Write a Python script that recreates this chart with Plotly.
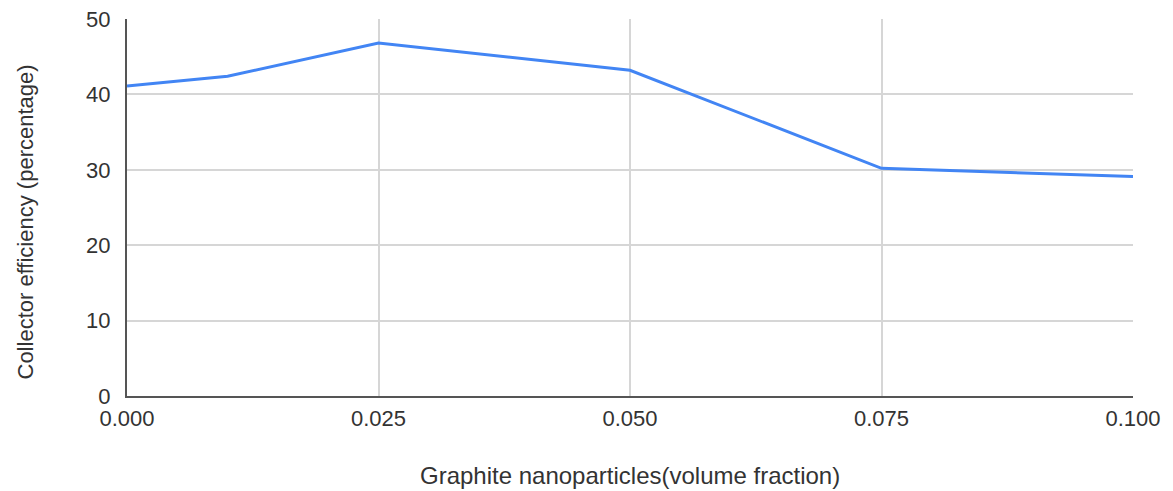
import plotly.graph_objects as go

# volume fraction of graphite nanoparticles
volume_fraction = [0.0, 0.01, 0.025, 0.05, 0.075, 0.1]
# collector efficiency in percent
efficiency = [41.1, 42.4, 46.8, 43.2, 30.2, 29.1]

x_ticks = [0.0, 0.025, 0.05, 0.075, 0.1]
x_tick_labels = ["0.000", "0.025", "0.050", "0.075", "0.100"]
y_ticks = [0, 10, 20, 30, 40, 50]

x_title = "Graphite nanoparticles(volume fraction)"
y_title = "Collector efficiency (percentage)"

font_family = "Liberation Sans, Arial, sans-serif"
text_color = "#333333"

fig = go.Figure()
fig.add_trace(go.Scatter(
    x=volume_fraction,
    y=efficiency,
    mode="lines",
    line=dict(color="#4285F4", width=3),
    showlegend=False,
))

# the page body adds an 8px offset, so margins are reduced on top/left
fig.update_layout(
    width=1173,
    height=491,
    margin=dict(l=119, r=48, t=11, b=103),
    plot_bgcolor="white",
    paper_bgcolor="white",
    font=dict(family=font_family, size=22, color=text_color),
)

fig.update_xaxes(
    range=[0, 0.1],
    tickvals=x_ticks,
    ticktext=x_tick_labels,
    showgrid=True,
    gridcolor="#d6d6d6",
    gridwidth=2,
    showline=True,
    linecolor="#555555",
    linewidth=2,
    zeroline=False,
    ticks="",
    ticklabelstandoff=2,
    ticklabeloverflow="allow",
    automargin=False,
    tickfont=dict(size=22),
)

fig.update_yaxes(
    range=[0, 50],
    tickvals=y_ticks,
    showgrid=True,
    gridcolor="#d6d6d6",
    gridwidth=2,
    showline=True,
    linecolor="#555555",
    linewidth=2,
    zeroline=False,
    ticks="",
    ticklabelstandoff=10,
    ticklabeloverflow="allow",
    automargin=False,
    tickfont=dict(size=22),
)

# axis titles as annotations to place them like the reference
fig.add_annotation(
    text=x_title, xref="paper", yref="paper", x=0.5, y=0,
    xanchor="center", yanchor="middle", yshift=-79, showarrow=False,
    font=dict(size=24, color=text_color),
)
fig.add_annotation(
    text=y_title, xref="paper", yref="paper", x=0, y=0.5,
    xanchor="center", yanchor="middle", xshift=-102, yshift=-15,
    textangle=-90, showarrow=False,
    font=dict(size=22, color=text_color),
)

fig.write_html("out.html")
